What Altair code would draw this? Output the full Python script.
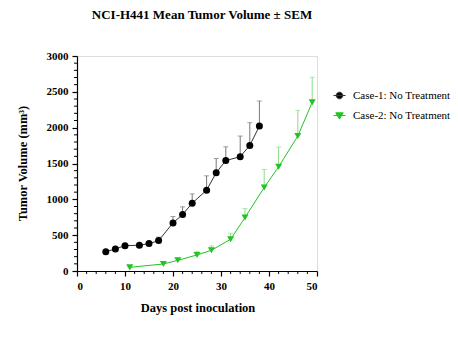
import altair as alt
import pandas as pd

# ---------------- data ----------------
series_names = ["Case-1: No Treatment", "Case-2: No Treatment"]

days1 = [6, 8, 10, 13, 15, 17, 20, 22, 24, 27, 29, 31, 34, 36, 38]
mean1 = [270, 307, 354, 359, 382, 424, 671, 788, 946, 1128, 1370, 1542, 1594, 1752, 2022]
upper1 = [292, 340, 376, 378, 410, 472, 760, 895, 1076, 1328, 1570, 1733, 1883, 2069, 2372]

days2 = [11, 18, 21, 25, 28, 32, 35, 39, 42, 46, 49]
mean2 = [51, 98, 149, 224, 289, 443, 746, 1165, 1454, 1883, 2353]
upper2 = [58, 121, 182, 275, 350, 527, 871, 1417, 1729, 2241, 2703]

x_ticks = [0, 10, 20, 30, 40, 50]
x_minor = [2, 4, 6, 8, 12, 14, 16, 18, 22, 24, 26, 28, 32, 34, 36, 38, 42, 44, 46, 48]
y_ticks = [0, 500, 1000, 1500, 2000, 2500, 3000]
y_minor = [v for v in range(100, 3000, 100) if v % 500 != 0]

df1 = pd.DataFrame({"day": days1, "mean": mean1, "upper": upper1})
df2 = pd.DataFrame({"day": days2, "mean": mean2, "upper": upper2})
df_leg = pd.DataFrame({"series": series_names})
df_xm = pd.DataFrame({"day": x_minor})
df_ym = pd.DataFrame({"mean": y_minor})

# ---------------- style ----------------
W, H = 240, 215
FONT = "Liberation Serif"
BLACK = "#000000"
BLACK_LINE = "#333333"
BLACK_ERR = "#777777"
GREEN = "#22c322"
GREEN_ERR = "#88de88"

xs = alt.Scale(domain=[0, 50], nice=False, zero=False)
ys = alt.Scale(domain=[0, 3000], nice=False)

axis_common = dict(
    grid=False, domainColor="#000000", domainWidth=1.2, tickColor="#000000",
    tickSize=5, tickWidth=1.2, labelFont=FONT, labelFontWeight="bold",
    labelFontSize=11, labelColor="#000000", titleFont=FONT,
    titleFontWeight="bold", titleFontSize=12.5, titleColor="#000000",
    format="d",
)

x_axis = alt.Axis(values=x_ticks, labelPadding=4, titleX=120.5, titleY=36,
                  titleBaseline="middle", **axis_common)
y_axis = alt.Axis(values=y_ticks, labelPadding=4, titleX=-55, titleY=107,
                  titleBaseline="middle", titleAlign="center", titleAngle=-90,
                  **axis_common)

X_TITLE = "Days post inoculation"
Y_TITLE = "Tumor Volume (mm³)"
X = alt.X("day:Q", scale=xs, axis=x_axis, title=X_TITLE)
Y = alt.Y("mean:Q", scale=ys, axis=y_axis, title=Y_TITLE)
Y_UP = alt.Y("upper:Q", scale=ys, axis=y_axis, title=Y_TITLE)


def series_layers(df, line_col, err_col, pt_col, shape):
    base = alt.Chart(df)
    err = base.mark_rule(color=err_col, strokeWidth=1).encode(
        x=X, y=Y, y2="upper:Q")
    cap = base.mark_tick(color=err_col, orient="horizontal", size=5,
                         thickness=1).encode(x=X, y=Y_UP)
    line = base.mark_line(color=line_col, strokeWidth=1).encode(x=X, y=Y)
    pts = base.mark_point(shape=shape, filled=True, size=49, color=pt_col,
                          opacity=1).encode(x=X, y=Y)
    return [err, cap, line, pts]


layers = []
layers += series_layers(df1, BLACK_LINE, BLACK_ERR, BLACK, "circle")
layers += series_layers(df2, GREEN, GREEN_ERR, GREEN, "triangle-down")

# minor ticks
xminor = alt.Chart(df_xm).mark_rule(color="#000000", strokeWidth=1).encode(
    x=X, y=alt.value(H), y2=alt.value(H + 3))
yminor = alt.Chart(df_ym).mark_rule(color="#000000", strokeWidth=1).encode(
    y=Y, x=alt.value(0), x2=alt.value(-3))

# legend (line + marker symbols)
circ_path = "M-1,0L1,0M-0.55,0A0.55,0.55,0,1,0,0.55,0A0.55,0.55,0,1,0,-0.55,0Z"
tri_path = "M-1,0L1,0M-0.62,-0.45L0.62,-0.45L0,0.6Z"
leg = alt.Legend(title=None, orient="none", legendX=256, legendY=33,
                 symbolSize=144, symbolStrokeWidth=1, labelFont=FONT,
                 labelFontSize=11, labelColor="#000000", labelOffset=7,
                 rowPadding=8, padding=0)
dom = series_names
legend_layer = alt.Chart(df_leg).mark_point(filled=True, size=144, opacity=1).encode(
    x=alt.value(0), y=alt.value(0),
    shape=alt.Shape("series:N", scale=alt.Scale(domain=dom, range=[circ_path, tri_path]), legend=leg),
    fill=alt.Fill("series:N", scale=alt.Scale(domain=dom, range=[BLACK, GREEN]), legend=leg),
    stroke=alt.Stroke("series:N", scale=alt.Scale(domain=dom, range=[BLACK_LINE, GREEN]), legend=leg),
).transform_filter("false")

chart = alt.layer(*layers, xminor, yminor, legend_layer).properties(
    width=W, height=H,
    autosize=alt.AutoSizeParams(type="none"),
    padding={"left": 77, "top": 56, "right": 141, "bottom": 67},
    title=alt.TitleParams("NCI-H441 Mean Tumor Volume ± SEM", font=FONT, fontSize=13,
                          fontWeight="bold", color="#000000", anchor="middle",
                          frame="group", offset=15, baseline="bottom", dx=5),
).configure_view(strokeWidth=0).configure(background="white")

chart.save("out.html", embed_options={"renderer": "svg", "actions": False})
